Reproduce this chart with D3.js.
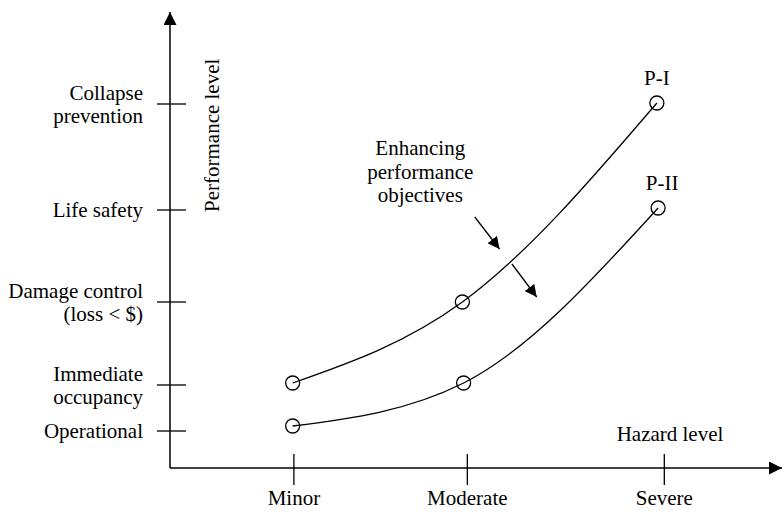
<!DOCTYPE html>
<html><head><meta charset="utf-8">
<script src="https://cdn.jsdelivr.net/npm/d3@7"></script>
<style>
body{margin:0;background:#fff}
text{font-family:"Liberation Serif","Times New Roman",serif;font-size:21px;fill:#000}
</style>
</head><body>
<svg id="chart" width="784" height="512"></svg>
<script>
// ---- data ----
const levelLabels = [["Operational"], ["Immediate", "occupancy"], ["Damage control", "(loss < $)"], ["Life safety"], ["Collapse", "prevention"]];
const levelValues = [0.37, 0.83, 1.66, 2.58, 3.64];
const hazardLabels = ["Minor", "Moderate", "Severe"];
const hazardValues = [1, 2.4, 3.99];
const seriesNames = ["P-I", "P-II"];
const pIHazard = [0.99, 2.36, 3.93];
const pIPerf = [0.85, 1.66, 3.65];
const pIIHazard = [0.99, 2.37, 3.94];
const pIIPerf = [0.42, 0.85, 2.60];
const annotationLines = ["Enhancing", "performance", "objectives"];

const svg = d3.select("#chart");
const x = d3.scaleLinear().domain([0, 4.94]).range([170, 782]);
const y = d3.scaleLinear().domain([0, 4.56]).range([468, 12]);

const defs = svg.append("defs");
defs.append("marker").attr("id", "ah").attr("viewBox", "0 0 10 10")
  .attr("refX", 10).attr("refY", 5).attr("markerWidth", 13).attr("markerHeight", 13)
  .attr("markerUnits", "userSpaceOnUse").attr("orient", "auto")
  .append("path").attr("d", "M0,0 L10,5 L0,10 Z").attr("fill", "#000");
defs.append("marker").attr("id", "ah2").attr("viewBox", "0 0 10 10")
  .attr("refX", 10).attr("refY", 5).attr("markerWidth", 12).attr("markerHeight", 12)
  .attr("markerUnits", "userSpaceOnUse").attr("orient", "auto")
  .append("path").attr("d", "M0,0 L10,5 L0,10 Z").attr("fill", "#000");

// axes lines
svg.append("line").attr("x1", x(0)).attr("y1", y(0)).attr("x2", x(0)).attr("y2", y(4.56))
  .attr("stroke", "#000").attr("stroke-width", 1.5).attr("marker-end", "url(#ah)");
svg.append("line").attr("x1", x(0)).attr("y1", y(0)).attr("x2", x(4.94)).attr("y2", y(0))
  .attr("stroke", "#000").attr("stroke-width", 1.5).attr("marker-end", "url(#ah)");

// y ticks
const yt = svg.append("g").selectAll("g").data(levelValues).join("g")
  .attr("transform", d => `translate(0,${y(d)})`);
yt.append("line").attr("x1", x(0) - 13).attr("x2", x(0) + 16).attr("stroke", "#000").attr("stroke-width", 1.3);
yt.append("text").attr("text-anchor", "end").attr("x", 143)
  .each(function(d, i) {
    const lines = levelLabels[i];
    const t = d3.select(this);
    lines.forEach((s, j) => {
      const dy = lines.length === 1 ? 7 : (j === 0 ? -4 : 19);
      t.append("tspan").attr("x", 143).attr("y", dy).text(s);
    });
  });

// x ticks
const xt = svg.append("g").selectAll("g").data(hazardValues).join("g")
  .attr("transform", d => `translate(${x(d)},0)`);
xt.append("line").attr("y1", y(0) - 14).attr("y2", y(0) + 17).attr("stroke", "#000").attr("stroke-width", 1.3);
xt.append("text").attr("text-anchor", "middle").attr("y", 505).text((d, i) => hazardLabels[i]);

// axis titles
svg.append("text").attr("text-anchor", "middle").attr("x", 670).attr("y", 441).text("Hazard level");
svg.append("text").attr("text-anchor", "start").attr("transform", `translate(219,212) rotate(-90)`).text("Performance level");

// series
const series = [
  {name: seriesNames[0], pts: pIHazard.map((h, i) => [h, pIPerf[i]])},
  {name: seriesNames[1], pts: pIIHazard.map((h, i) => [h, pIIPerf[i]])}
];
const line = d3.line().x(d => x(d[0])).y(d => y(d[1])).curve(d3.curveMonotoneX);
series.forEach(s => {
  svg.append("path").attr("d", line(s.pts)).attr("fill", "none").attr("stroke", "#000").attr("stroke-width", 1.3);
  svg.append("g").selectAll("circle").data(s.pts).join("circle")
    .attr("cx", d => x(d[0])).attr("cy", d => y(d[1])).attr("r", 7)
    .attr("fill", "none").attr("stroke", "#000").attr("stroke-width", 1.3);
  const last = s.pts[s.pts.length - 1];
  svg.append("text").attr("text-anchor", "middle").attr("x", x(last[0]) + (s.name === "P-II" ? 4 : 0))
    .attr("y", y(last[1]) - 18).text(s.name);
});

// annotation
const ann = svg.append("text").attr("text-anchor", "middle");
annotationLines.forEach((s, j) => ann.append("tspan").attr("x", x(2.02)).attr("y", y(3.13) + j * 23.5).text(s));
const arrows = [[[2.46, 2.51], [2.66, 2.19]], [[2.76, 2.04], [2.96, 1.71]]];
svg.append("g").selectAll("line").data(arrows).join("line")
  .attr("x1", d => x(d[0][0])).attr("y1", d => y(d[0][1]))
  .attr("x2", d => x(d[1][0])).attr("y2", d => y(d[1][1]))
  .attr("stroke", "#000").attr("stroke-width", 1.3).attr("marker-end", "url(#ah2)");
</script>
</body></html>
